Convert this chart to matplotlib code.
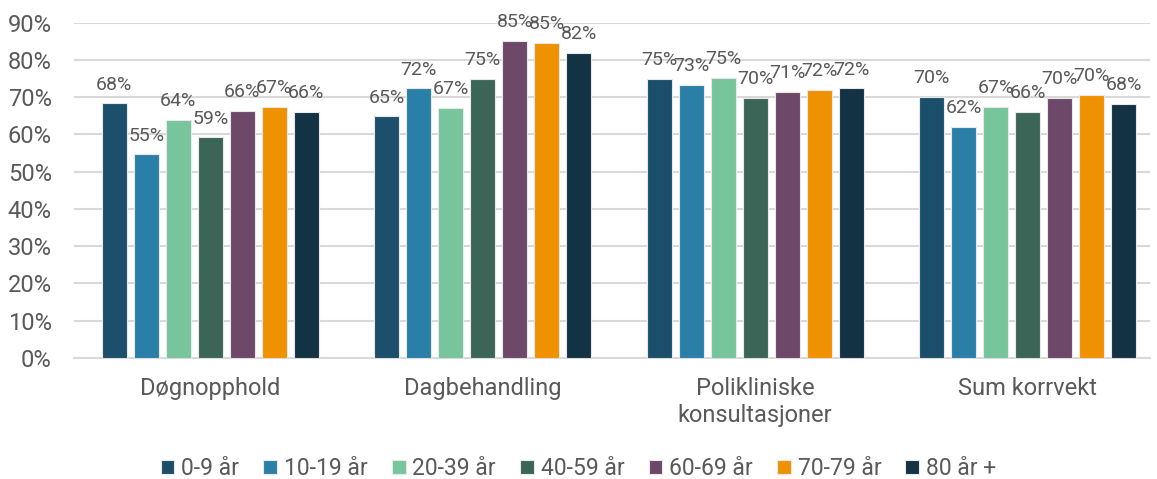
import matplotlib
matplotlib.use("Agg")
import matplotlib.pyplot as plt
import numpy as np

plt.rcParams['font.family'] = ['Roboto', 'DejaVu Sans']

# categories and age groups
categories = ["Døgnopphold", "Dagbehandling", "Polikliniske\nkonsultasjoner", "Sum korrvekt"]
age_groups = ["0-9 år", "10-19 år", "20-39 år", "40-59 år", "60-69 år", "70-79 år", "80 år +"]

# share per age group (%), one list per age group, in category order
v_0_9 = [68.3, 64.8, 74.8, 70.0]
v_10_19 = [54.6, 72.3, 73.2, 62.0]
v_20_39 = [63.9, 67.0, 75.1, 67.3]
v_40_59 = [59.2, 74.8, 69.8, 66.0]
v_60_69 = [66.3, 85.1, 71.3, 69.7]
v_70_79 = [67.3, 84.6, 72.0, 70.5]
v_80 = [66.0, 81.9, 72.3, 68.1]
series = [v_0_9, v_10_19, v_20_39, v_40_59, v_60_69, v_70_79, v_80]

colors = ["#1b4f6b", "#2a7fa8", "#76c59b", "#3b6657", "#6e4869", "#ef9100", "#133243"]
text_col = "#595959"

fig = plt.figure(figsize=(11.57, 4.79), dpi=100)
ax = fig.add_axes([0.064, 0.253, 0.93, 0.70])

x = np.arange(len(categories))
pitch = 0.1175
width = 0.092
for i, (vals, col, lab) in enumerate(zip(series, colors, age_groups)):
    pos = x + (i - 3) * pitch
    bars = ax.bar(pos, vals, width, color=col, label=lab, edgecolor="#e8e8e8", linewidth=0.8, zorder=3)
    for b, v in zip(bars, vals):
        ax.annotate(f"{v:.0f}%", (b.get_x() + b.get_width() / 2, v), xytext=(0, 7),
                    textcoords="offset points", ha="center", va="bottom",
                    fontsize=14, color=text_col, zorder=4)

ax.set_ylim(0, 90)
ax.set_yticks(range(0, 91, 10))
ax.set_yticklabels([f"{t}%" for t in range(0, 91, 10)])
ax.set_xlim(-0.5, 3.45)
ax.set_xticks(x)
ax.set_xticklabels(categories)
ax.grid(axis="y", color="#d9d9d9", linewidth=1.5, zorder=0)
ax.tick_params(axis="both", length=0, labelsize=17, colors=text_col)
ax.tick_params(axis="y", pad=16)
ax.tick_params(axis="x", pad=14)
for s in ["top", "right", "left"]:
    ax.spines[s].set_visible(False)
ax.spines["bottom"].set_color("#d9d9d9")
ax.spines["bottom"].set_linewidth(1.5)

fig.legend(loc="lower center", bbox_to_anchor=(0.5, -0.045), ncol=7, frameon=False,
           fontsize=16.5, labelcolor=text_col, handlelength=0.6, handleheight=0.6,
           handletextpad=0.3, columnspacing=1.05)

fig.savefig("out.png", dpi=100)
